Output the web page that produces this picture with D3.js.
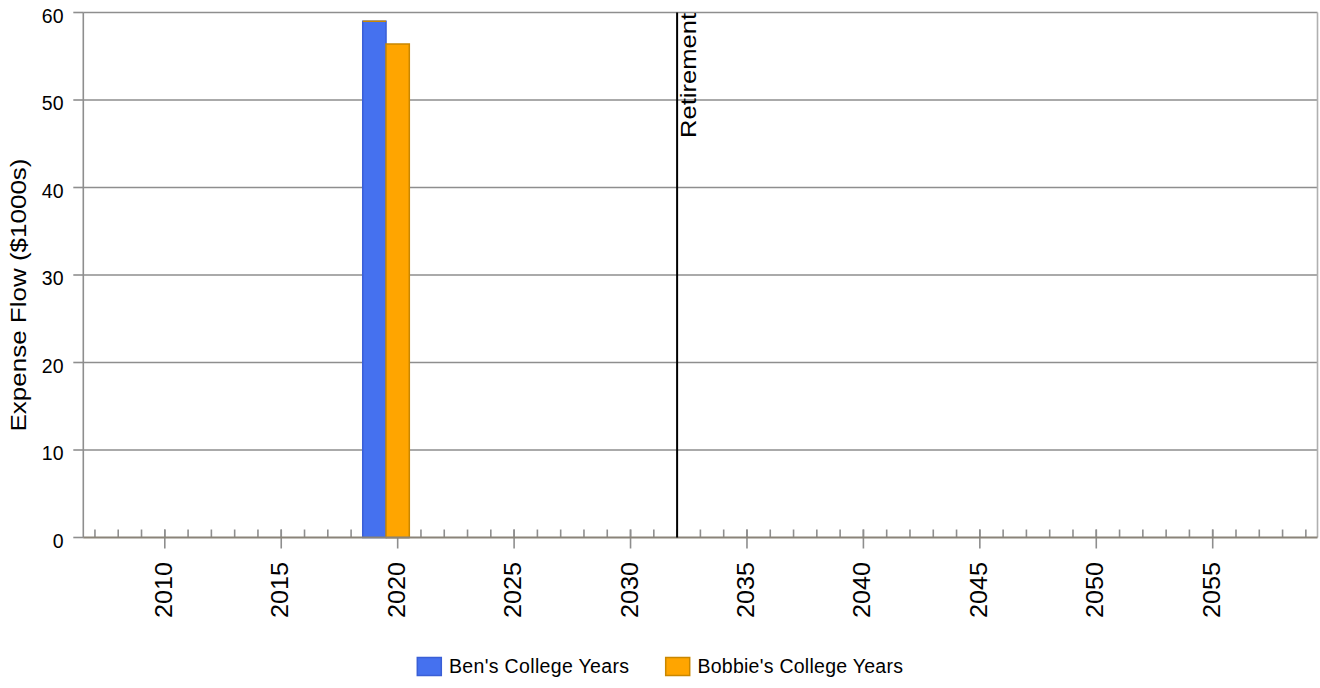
<!DOCTYPE html>
<html><head><meta charset="utf-8">
<script src="https://cdn.jsdelivr.net/npm/d3@7"></script>
<style>
html,body{margin:0;padding:0;background:#fff;}
svg{display:block;font-family:"Liberation Sans",Arial,sans-serif;}
</style></head>
<body>
<svg id="chart" width="1320" height="688"></svg>
<script>
// ---- data ----
const firstYear = 2007;
const lastYear = 2059;
const barYears = [2019, 2020];
const bensCollege = [59.0, 0];
const bobbiesCollege = [0, 56.4];
const seriesNames = ["Ben's College Years", "Bobbie's College Years"];
const yTicks = [0, 10, 20, 30, 40, 50, 60];
const xTickLabels = [2010, 2015, 2020, 2025, 2030, 2035, 2040, 2045, 2050, 2055];
const retirementYear = 2032;
const retirementLabel = "Retirement";
const yTitle = "Expense Flow ($1000s)";

// ---- layout ----
const svg = d3.select("#chart");
const L = 83.3, R = 1317.5, T = 12.5, B = 537.5;
const colors = ["#4571ef", "#ffa500"];
const strokes = ["#3a5fd6", "#c98700"];
const gridColor = "#8e8e8e";

const allYears = d3.range(firstYear, lastYear + 1);
const x = d3.scaleBand().domain(allYears).range([L, R]).padding(0);
const y = d3.scaleLinear().domain([0, 60]).range([B, T]);

// gridlines
svg.append("g").selectAll("line").data(yTicks.filter(d => d > 0)).join("line")
  .attr("x1", L).attr("x2", R).attr("y1", d => y(d)).attr("y2", d => y(d))
  .attr("stroke", gridColor).attr("stroke-width", 1.6);

// frame left / right
svg.append("line").attr("x1", L).attr("x2", L).attr("y1", T).attr("y2", B)
  .attr("stroke", gridColor).attr("stroke-width", 1.6);
svg.append("line").attr("x1", R).attr("x2", R).attr("y1", T).attr("y2", B)
  .attr("stroke", "#b0b0b0").attr("stroke-width", 1.6);

// y ticks
svg.append("g").selectAll("line").data(yTicks).join("line")
  .attr("x1", L - 10).attr("x2", L).attr("y1", d => y(d)).attr("y2", d => y(d))
  .attr("stroke", gridColor).attr("stroke-width", 1.6);
svg.append("g").selectAll("text").data(yTicks).join("text")
  .attr("x", 63.5).attr("y", d => y(d) + 10)
  .attr("text-anchor", "end").attr("font-size", 19.5).attr("fill", "#000")
  .text(d => d);

// x minor ticks (every year, upward)
svg.append("g").selectAll("line").data(allYears).join("line")
  .attr("x1", d => x(d) + x.bandwidth() / 2).attr("x2", d => x(d) + x.bandwidth() / 2)
  .attr("y1", B - 8).attr("y2", B)
  .attr("stroke", gridColor).attr("stroke-width", 1.6);
// major ticks
svg.append("g").selectAll("line").data(xTickLabels).join("line")
  .attr("x1", d => x(d) + x.bandwidth() / 2).attr("x2", d => x(d) + x.bandwidth() / 2)
  .attr("y1", B - 8).attr("y2", B + 11)
  .attr("stroke", gridColor).attr("stroke-width", 1.6);
svg.append("g").selectAll("text").data(xTickLabels).join("text")
  .attr("transform", d => `translate(${x(d) + x.bandwidth() / 2 + 7},${B + 24.5}) rotate(-90)`)
  .attr("text-anchor", "end").attr("font-size", 23).attr("fill", "#000")
  .attr("textLength", 56).attr("lengthAdjust", "spacingAndGlyphs")
  .text(d => d);

// stacked bars
const table = barYears.map((yr, i) => ({ year: yr, s0: bensCollege[i], s1: bobbiesCollege[i] }));
const stacked = d3.stack().keys(["s0", "s1"])(table);
stacked.forEach((layer, li) => {
  svg.append("g").selectAll("path").data(layer).join("path")
    .attr("d", d => {
      const x0 = x(d.data.year), w = x.bandwidth();
      const y0 = y(d[0]), y1 = y(d[1]);
      return `M${x0},${y1}H${x0 + w}V${y0}H${x0}Z`;
    })
    .attr("fill", colors[li]).attr("stroke", strokes[li]).attr("stroke-width", 1.5);
});

// x axis baseline
svg.append("line").attr("x1", L).attr("x2", R).attr("y1", B).attr("y2", B)
  .attr("stroke", "#8a8479").attr("stroke-width", 2);

// retirement marker
const rx = x(retirementYear) + x.bandwidth() / 2;
svg.append("line").attr("x1", rx).attr("x2", rx).attr("y1", T).attr("y2", B)
  .attr("stroke", "#000").attr("stroke-width", 2);
svg.append("text")
  .attr("transform", `translate(${rx + 18.5},${T + 0.5}) rotate(-90)`)
  .attr("text-anchor", "end").attr("font-size", 21.5).attr("fill", "#000")
  .attr("textLength", 125).attr("lengthAdjust", "spacingAndGlyphs")
  .text(retirementLabel);

// y title
svg.append("text")
  .attr("transform", `translate(25.5,295) rotate(-90)`)
  .attr("text-anchor", "middle").attr("font-size", 21.5).attr("fill", "#000")
  .attr("textLength", 273).attr("lengthAdjust", "spacingAndGlyphs")
  .text(yTitle);

// legend
const legendX = [417.3, 665.7];
const legendTextLen = [180, 205.5];
seriesNames.forEach((name, i) => {
  svg.append("rect").attr("x", legendX[i]).attr("y", 657.5)
    .attr("width", 24).attr("height", 18)
    .attr("fill", colors[i]).attr("stroke", strokes[i]).attr("stroke-width", 1.5);
  svg.append("text").attr("x", legendX[i] + 31.7).attr("y", 673)
    .attr("font-size", 19.5).attr("fill", "#000")
    .attr("textLength", legendTextLen[i]).attr("lengthAdjust", "spacing")
    .text(name);
});
</script>
</body></html>
